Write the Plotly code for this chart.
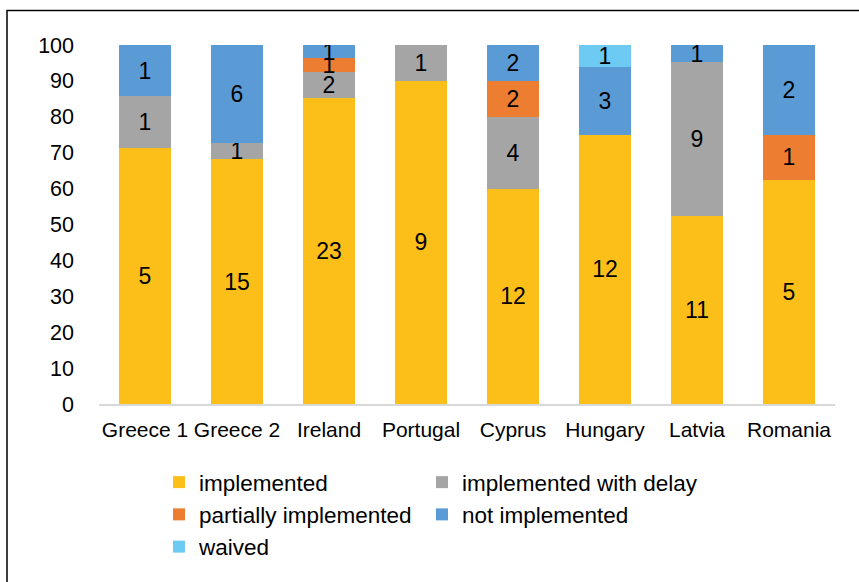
import plotly.graph_objects as go

countries = ["Greece 1", "Greece 2", "Ireland", "Portugal", "Cyprus", "Hungary", "Latvia", "Romania"]
implemented = [5, 15, 23, 9, 12, 12, 11, 5]
implemented_with_delay = [1, 1, 2, 1, 4, 0, 9, 0]
partially_implemented = [0, 0, 1, 0, 2, 0, 0, 1]
not_implemented = [1, 6, 1, 0, 2, 3, 1, 2]
waived = [0, 0, 0, 0, 0, 1, 0, 0]

series = [
    ("implemented", implemented, "#FCBF1A", "legend"),
    ("implemented with delay", implemented_with_delay, "#A5A5A5", "legend2"),
    ("partially implemented", partially_implemented, "#ED7D31", "legend"),
    ("not implemented", not_implemented, "#5B9BD5", "legend2"),
    ("waived", waived, "#6DCAF2", "legend"),
]

W, H = 859, 582
L, R, T, B = 99, 24, 45, 178
FONT = "Liberation Sans, Arial, sans-serif"

fig = go.Figure()
for name, vals, color, leg in series:
    fig.add_trace(go.Bar(
        name=name, x=countries, y=vals, legend=leg,
        marker=dict(color=color, line=dict(width=0)),
        text=[str(v) if v else "" for v in vals],
        textposition="inside", insidetextanchor="middle", textangle=0,
        constraintext="none",
        textfont=dict(family=FONT, size=23, color="#000000"),
    ))

pw = W - L - R
ph = H - T - B
def px_x(px):
    return (px - L) / pw
def px_y(py):
    return (H - B - py) / ph

legend_common = dict(
    orientation="v", traceorder="normal",
    xref="container", yref="container",
    xanchor="left", yanchor="top",
    font=dict(family=FONT, size=22.5, color="#000000"),
    bgcolor="rgba(0,0,0,0)",
)

fig.update_layout(
    width=W, height=H,
    margin=dict(l=L, r=R, t=T, b=B, pad=0, autoexpand=False),
    barmode="stack", barnorm="percent", bargap=0.435,
    paper_bgcolor="white", plot_bgcolor="white",
    font=dict(family=FONT, size=21, color="#000000"),
    uniformtext=dict(minsize=23, mode="show"),
    showlegend=True,
    legend=dict(legend_common, x=159 / W, y=1 - 461 / H),
    legend2=dict(legend_common, x=422 / W, y=1 - 461 / H),
    xaxis=dict(
        showgrid=False, showline=True, linecolor="#D9D9D9", linewidth=2,
        ticks="", tickfont=dict(family=FONT, size=21, color="#000000"),
        ticklabelstandoff=6, automargin=False,
    ),
    yaxis=dict(
        range=[0, 100], dtick=10, showgrid=False, showline=False, zeroline=False,
        ticks="", tickfont=dict(family=FONT, size=21.5, color="#000000"),
        ticklabelstandoff=24, automargin=False,
    ),
    shapes=[dict(
        type="rect", xref="paper", yref="paper",
        x0=px_x(7), x1=px_x(W + 20), y0=px_y(H + 20), y1=px_y(10.5),
        line=dict(color="#000000", width=1.5), fillcolor="rgba(0,0,0,0)",
        layer="above",
    )],
)

fig.write_html(
    "out.html",
    config={"displayModeBar": False},
    post_script="document.body.style.margin='0';document.body.style.padding='0';",
)
